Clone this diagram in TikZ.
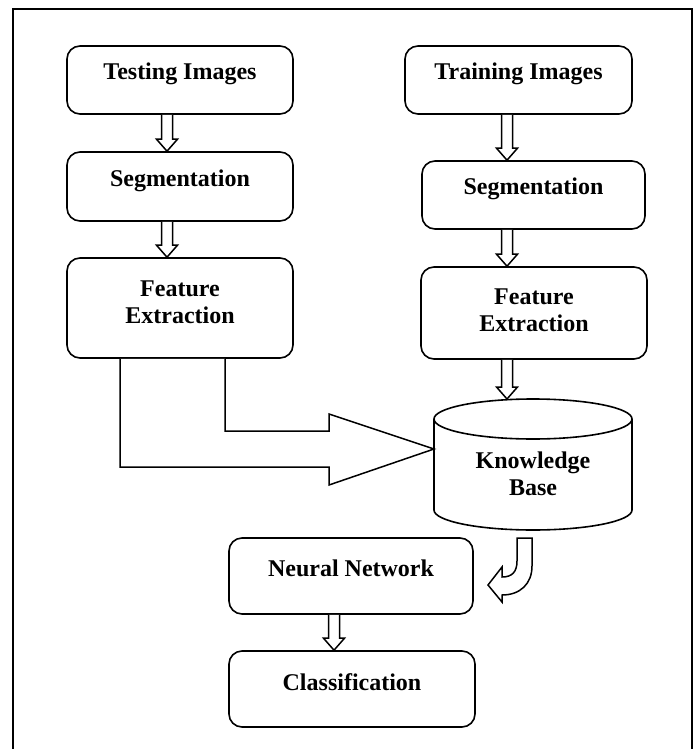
\documentclass[tikz,border=0pt]{standalone}
\usepackage{fontspec}
\setmainfont{Liberation Serif}
\usepackage{tikz}
\usetikzlibrary{positioning, calc}
\tikzset{
  stagebox/.style={draw=black, line width=1.6pt, rounded corners=13pt, fill=white},
  stagetext/.style={font=\fontsize{24}{27}\selectfont\bfseries, align=center, inner sep=0pt},
  hollow/.style={draw=black, line width=1.5pt, fill=white, line join=miter},
}
% hollow block arrow pointing down, at abscissa #1, from #2 to #3
\newcommand{\blockdown}[3]{%
  \draw[hollow] let \p1=(#2), \p2=(#3) in
    (#1pt-5.5pt,\y1) -- (#1pt-5.5pt,\y2+12pt) -- (#1pt-10.5pt,\y2+12pt) -- (#1pt,\y2)
    -- (#1pt+10.5pt,\y2+12pt) -- (#1pt+5.5pt,\y2+12pt) -- (#1pt+5.5pt,\y1);}

\begin{document}
\begin{tikzpicture}[x=1pt, y=-1pt]
  \useasboundingbox (0,0) rectangle (699,749);
  \draw[line width=1.6pt] (13,9) rectangle (692,775);

  % testing branch
  \node[stagebox, minimum width=226, minimum height=68,
    label={[stagetext, yshift=6pt]center:Testing Images}] (test) at (180,80) {};
  \node[stagebox, minimum width=226, minimum height=69,
    label={[stagetext, yshift=6pt]center:Segmentation}] (segL) at (180,186.5) {};
  \node[stagebox, minimum width=226, minimum height=100,
    label={[stagetext, yshift=6pt]center:Feature\\Extraction}] (featL) at (180,308) {};

  % training branch
  \node[stagebox, minimum width=227, minimum height=68,
    label={[stagetext, yshift=6pt]center:Training Images}] (train) at (518.5,80) {};
  \node[stagebox, minimum width=223, minimum height=68,
    label={[stagetext, yshift=6pt]center:Segmentation}] (segR) at (533.5,195) {};
  \node[stagebox, minimum width=226, minimum height=92,
    label={[stagetext, yshift=3pt]center:Feature\\Extraction}] (featR) at (534,313) {};

  % knowledge base cylinder
  \draw[hollow, line width=1.6pt] (434,419) -- (434,510)
    arc[start angle=180, end angle=0, x radius=99, y radius=20] -- (632,419);
  \draw[hollow, line width=1.6pt] (533,419) ellipse[x radius=99, y radius=20];
  \node[stagetext] (kb) at (533,474) {Knowledge\\Base};
  \coordinate (kbtop) at (507,399);
  \coordinate (kbtip) at (434,449);

  % classifier
  \node[stagebox, minimum width=244, minimum height=76,
    label={[stagetext, yshift=8pt]center:Neural Network}] (nn) at (351,576) {};
  \node[stagebox, minimum width=246, minimum height=76,
    label={[stagetext, yshift=7pt]center:Classification}] (cls) at (352,689) {};

  % flow arrows
  \blockdown{167}{test.south}{segL.north}
  \blockdown{167}{segL.south}{featL.north}
  \blockdown{507}{train.south}{segR.north}
  \blockdown{507}{segR.south}{featR.north}
  \blockdown{507}{featR.south}{kbtop}
  \blockdown{334}{nn.south}{cls.north}

  % test features into the knowledge base
  \draw[hollow] let \p1=(featL.south), \p2=(kbtip) in
    (120pt,\y1) -- (120pt,\y2-18pt) -- (329pt,\y2-18pt) -- (329pt,\y2-36pt) -- (\p2)
    -- (329pt,\y2+35pt) -- (329pt,\y2+18pt) -- (225pt,\y2+18pt) -- (225pt,\y1);

  % knowledge base back to the network
  \coordinate (nntip) at (488,585);
  \draw[hollow] (517,538) -- (532,538) -- (532,566)
    .. controls (532,584) and (520,595) .. (502,595) -- (502,602) -- (nntip)
    -- (502,567) -- (502,577) .. controls (512,577) and (517,572) .. (517,561) -- cycle;
\end{tikzpicture}
\end{document}
